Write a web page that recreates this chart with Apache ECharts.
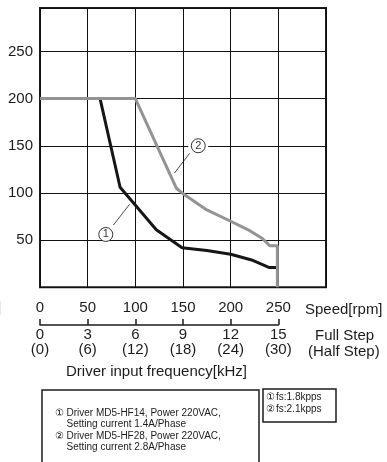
<!DOCTYPE html>
<html>
<head>
<meta charset="utf-8">
<script src="https://cdn.jsdelivr.net/npm/echarts@6/dist/echarts.min.js"></script>
<style>
  html, body { margin: 0; padding: 0; background: #fff; }
  #chart { width: 387px; height: 462px; }
</style>
</head>
<body>
<div id="chart"></div>
<script>
// curve 1: MD5-HF14 (black), curve 2: MD5-HF28 (gray)
var speed1 = [0, 63, 84, 122, 149, 175, 200, 222, 240, 249];
var torque1 = [200, 200, 106, 61, 42, 39, 35, 29, 21, 21];
var speed2 = [0, 100, 143, 149, 175, 200, 220, 233, 241, 249, 249];
var torque2 = [200, 200, 105, 100, 82, 70, 60, 52, 44, 44, 0];

var speedTicks = [0, 50, 100, 150, 200, 250];
var torqueTicks = [50, 100, 150, 200, 250];
var fullStep = ['0', '3', '6', '9', '12', '15'];
var halfStep = ['(0)', '(6)', '(12)', '(18)', '(24)', '(30)'];

// annotation anchors (data coords)
var tag1 = [69, 56];
var lead1 = [[77, 66], [94, 88]];
var tag2 = [166, 150];
var lead2 = [[157, 142], [141, 121]];

var noteLines = [
  ['①', 'Driver MD5-HF14, Power 220VAC,'],
  ['', 'Setting current 1.4A/Phase'],
  ['②', 'Driver MD5-HF28, Power 220VAC,'],
  ['', 'Setting current 2.8A/Phase']
];
var fsLines = [['①', 'fs:1.8kpps'], ['②', 'fs:2.1kpps']];

var font = '"Liberation Sans", Arial, sans-serif';
var ink = '#1c1c1c';

function zip(xs, ys) {
  return xs.map(function (x, i) { return [x, ys[i]]; });
}

function tagPoint(at, txt, gapW) {
  return [
    { coord: at, symbol: 'rect', symbolSize: [gapW, 5], itemStyle: { color: '#fff', borderWidth: 0 }, label: { show: false } },
    { coord: at, symbol: 'circle', symbolSize: 14,
      itemStyle: { color: '#fff', borderColor: '#333', borderWidth: 1 },
      label: { show: true, formatter: txt, color: '#333', fontSize: 11, fontFamily: font } }
  ];
}

var graphic = [
  { type: 'text', left: 305, top: 302, style: { text: 'Speed[rpm]', font: '15px ' + font, fill: ink } },
  { type: 'text', left: 315, top: 328, style: { text: 'Full Step', font: '15px ' + font, fill: ink } },
  { type: 'text', left: 308, top: 344, style: { text: '(Half Step)', font: '15px ' + font, fill: ink } },
  { type: 'text', left: 66, top: 364, style: { text: 'Driver input frequency[kHz]', font: '15px ' + font, fill: ink } },
  { type: 'text', left: -3, top: 300, style: { text: ']', font: '15px ' + font, fill: ink } },
  { type: 'rect', shape: { x: 42, y: 390, width: 217, height: 90 }, style: { fill: 'none', stroke: ink, lineWidth: 1.5 } },
  { type: 'rect', shape: { x: 263, y: 389, width: 73, height: 33 }, style: { fill: 'none', stroke: ink, lineWidth: 1.5 } }
];
noteLines.forEach(function (l, i) {
  var y = 408.5 + i * 11.2;
  if (l[0]) graphic.push({ type: 'text', left: 55, top: y, style: { text: l[0], font: '10px ' + font, fill: ink } });
  graphic.push({ type: 'text', left: 66.5, top: y, style: { text: l[1], font: '10px ' + font, fill: ink } });
});
fsLines.forEach(function (l, i) {
  var y = 392 + i * 12.6;
  graphic.push({ type: 'text', left: 266, top: y, style: { text: l[0], font: '10px ' + font, fill: ink } });
  graphic.push({ type: 'text', left: 276, top: y, style: { text: l[1], font: '10px ' + font, fill: ink } });
});

var chart = echarts.init(document.getElementById('chart'));
chart.setOption({
  animation: false,
  backgroundColor: '#fff',
  grid: [
    { left: 40, top: 8, width: 286, height: 279.3, show: true, borderColor: ink, borderWidth: 2, backgroundColor: 'transparent' },
    { left: 40, top: 300, width: 238.3, height: 25 }
  ],
  xAxis: [
    {
      type: 'value', gridIndex: 0, min: 0, max: 300, interval: 50,
      axisLine: { show: false }, axisTick: { show: false },
      splitLine: { show: true, lineStyle: { color: '#111', width: 1 } },
      axisLabel: {
        margin: 13, color: ink, fontSize: 15, fontFamily: font,
        formatter: function (v) { return speedTicks.indexOf(v) >= 0 ? String(v) : ''; }
      }
    },
    {
      type: 'category', gridIndex: 1, data: fullStep, boundaryGap: false,
      axisLine: { show: true, lineStyle: { color: ink, width: 1.5 } },
      axisTick: { show: true, inside: true, length: 6, lineStyle: { color: ink, width: 1.5 } },
      splitLine: { show: false },
      axisLabel: {
        margin: 2.5, color: ink, fontSize: 15, fontFamily: font, lineHeight: 15, interval: 0,
        formatter: function (v, i) { return v + '\n' + halfStep[i]; }
      }
    }
  ],
  yAxis: [
    {
      type: 'value', gridIndex: 0, min: 0, max: 296, interval: 50,
      axisLine: { show: false }, axisTick: { show: false },
      splitLine: { show: true, lineStyle: { color: '#111', width: 1 } },
      axisLabel: {
        margin: 7, color: ink, fontSize: 15, fontFamily: font,
        formatter: function (v) { return torqueTicks.indexOf(v) >= 0 ? String(v) : ''; }
      }
    },
    { type: 'value', gridIndex: 1, show: false }
  ],
  series: [
    {
      name: 'MD5-HF14', type: 'line', xAxisIndex: 0, yAxisIndex: 0,
      data: zip(speed1, torque1), showSymbol: false, symbol: 'none', z: 3,
      lineStyle: { color: '#161616', width: 3 },
      markLine: {
        silent: true, symbol: ['none', 'none'], label: { show: false },
        lineStyle: { color: ink, width: 0.8, type: 'solid' },
        data: [[{ coord: lead1[0] }, { coord: lead1[1] }]]
      },
      markPoint: { silent: true, data: tagPoint(tag1, '1', 18) }
    },
    {
      name: 'MD5-HF28', type: 'line', xAxisIndex: 0, yAxisIndex: 0,
      data: zip(speed2, torque2), showSymbol: false, symbol: 'none', z: 4,
      lineStyle: { color: '#939393', width: 3 },
      markLine: {
        silent: true, symbol: ['none', 'none'], label: { show: false },
        lineStyle: { color: ink, width: 0.8, type: 'solid' },
        data: [[{ coord: lead2[0] }, { coord: lead2[1] }]]
      },
      markPoint: { silent: true, data: tagPoint(tag2, '2', 20) }
    }
  ],
  graphic: graphic
});
</script>
</body>
</html>
